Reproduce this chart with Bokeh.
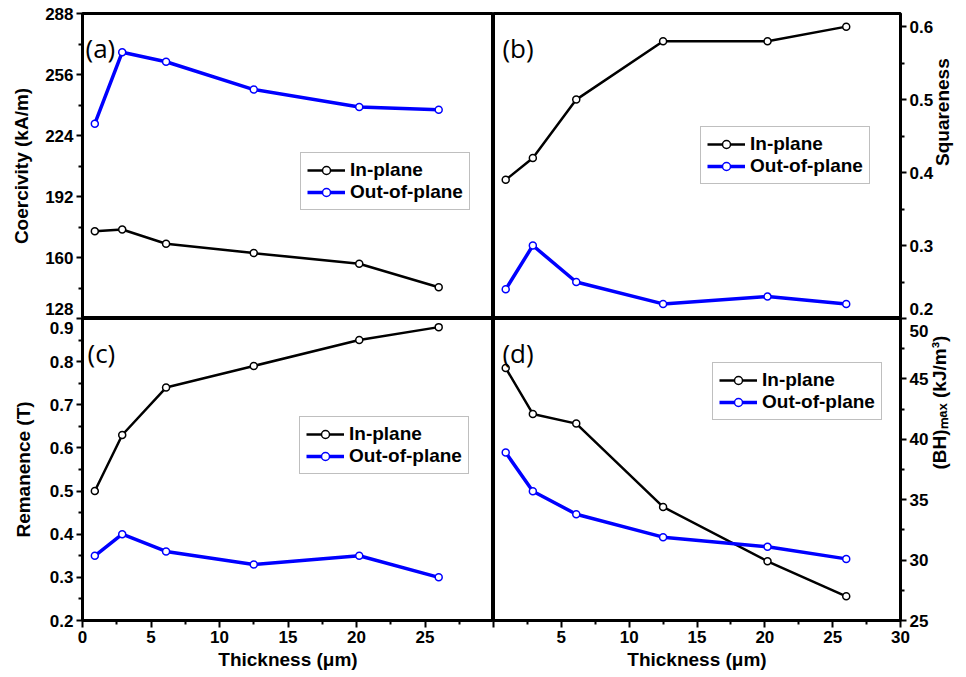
import math
from bokeh.plotting import figure
from bokeh.layouts import gridplot
from bokeh.models import FixedTicker, LinearAxis, Legend, LegendItem, Label, Range1d
from bokeh.embed import file_html
from bokeh.resources import INLINE

# ---------------- data ----------------
thickness = [0.9, 2.9, 6.1, 12.5, 20.2, 26.0]

coercivity_in = [173.8, 174.7, 167.2, 162.3, 156.7, 144.4]
coercivity_out = [230.2, 267.7, 262.7, 248.1, 238.9, 237.5]

squareness_in = [0.39, 0.42, 0.50, 0.58, 0.58, 0.60]
squareness_out = [0.24, 0.30, 0.25, 0.22, 0.23, 0.22]

remanence_in = [0.50, 0.63, 0.74, 0.79, 0.85, 0.88]
remanence_out = [0.35, 0.40, 0.36, 0.33, 0.35, 0.30]

bhmax_in = [45.9, 42.1, 41.3, 34.4, 29.9, 27.0]
bhmax_out = [38.9, 35.7, 33.8, 31.9, 31.1, 30.1]

x_ticks = [0, 5, 10, 15, 20, 25, 30]
a_ticks = [128, 160, 192, 224, 256, 288]
a_labels = ["128", "160", "192", "224", "256", "288"]
b_ticks = [0.2, 0.3, 0.4, 0.5, 0.6]
b_labels = ["0.2", "0.3", "0.4", "0.5", "0.6"]
c_ticks = [0.2, 0.3, 0.4, 0.5, 0.6, 0.7, 0.8, 0.9]
c_labels = ["0.2", "0.3", "0.4", "0.5", "0.6", "0.7", "0.8", "0.9"]
d_ticks = [25, 30, 35, 40, 45, 50]
d_labels = ["25", "30", "35", "40", "45", "50"]

series_labels = ["In-plane", "Out-of-plane"]
x_title = "Thickness (\u03bcm)"

FONT = "Liberation Sans"
BLUE = "#0000ff"
TICK_FS = "17px"
TITLE_FS = "19px"


def mids(t):
    return [(t[i] + t[i + 1]) / 2 for i in range(len(t) - 1)]


def make_fig(w, h, yr, bl, br, bt, bb):
    p = figure(width=w, height=h, x_range=Range1d(0, 30), y_range=Range1d(*yr),
               output_backend="svg", toolbar_location=None,
               x_axis_location=None, y_axis_location=None,
               min_border_left=bl, min_border_right=br,
               min_border_top=bt, min_border_bottom=bb)
    p.xgrid.visible = False
    p.ygrid.visible = False
    p.outline_line_color = "black"
    p.outline_line_width = 3
    p.background_fill_color = "white"
    p.border_fill_color = "white"
    return p


def style_title(ax, title, standoff, side):
    ax.axis_label = title
    ax.axis_label_text_font = FONT
    ax.axis_label_text_font_style = "bold"
    ax.axis_label_text_font_size = TITLE_FS
    ax.axis_label_text_color = "black"
    ax.axis_label_standoff = standoff
    if side == "right" and "axis_label_orientation" in ax.properties():
        ax.axis_label_orientation = math.pi / 2


def value_axis(p, side, ticks, labels, yr, frame_h, nudge_idx, nudge_px,
               title, title_standoff):
    # tick marks only (nearest the frame)
    marks = LinearAxis(ticker=FixedTicker(ticks=ticks, minor_ticks=mids(ticks)))
    marks.major_tick_in = 0
    marks.major_tick_out = 6
    marks.minor_tick_in = 0
    marks.minor_tick_out = 4
    marks.major_tick_line_width = 2
    marks.minor_tick_line_width = 2
    marks.axis_line_color = None
    marks.major_label_text_color = None
    marks.major_label_text_font_size = "1px"
    marks.major_label_standoff = 0
    p.add_layout(marks, side)
    # labels only (the label at the shared panel edge is nudged inward)
    span = yr[1] - yr[0]
    pos = list(ticks)
    pos[nudge_idx] = round(ticks[nudge_idx] + nudge_px / frame_h * span, 4)
    lab = LinearAxis(ticker=FixedTicker(ticks=pos, minor_ticks=[]))
    lab.major_tick_in = 0
    lab.major_tick_out = 0
    lab.minor_tick_in = 0
    lab.minor_tick_out = 0
    lab.axis_line_color = None
    lab.major_label_standoff = 3
    lab.major_label_text_font = FONT
    lab.major_label_text_font_style = "bold"
    lab.major_label_text_font_size = TICK_FS
    lab.major_label_text_color = "black"
    lab.major_label_overrides = {v: t for v, t in zip(pos, labels)}
    style_title(lab, title, title_standoff, side)
    p.add_layout(lab, side)


def x_axis(p, overrides, title):
    ax = LinearAxis(ticker=FixedTicker(ticks=x_ticks, minor_ticks=mids(x_ticks)))
    ax.major_tick_in = 0
    ax.major_tick_out = 7
    ax.minor_tick_in = 0
    ax.minor_tick_out = 4
    ax.major_tick_line_width = 2
    ax.minor_tick_line_width = 2
    ax.axis_line_color = None
    ax.major_label_standoff = 3
    ax.major_label_text_font = FONT
    ax.major_label_text_font_style = "bold"
    ax.major_label_text_font_size = TICK_FS
    ax.major_label_text_color = "black"
    ax.major_label_overrides = overrides
    style_title(ax, title, 3, "below")
    p.add_layout(ax, "below")


def add_series(p, yin, yout, loc):
    l1 = p.line(thickness, yin, line_color="black", line_width=2.5)
    c1 = p.scatter(thickness, yin, size=7, marker="circle", fill_color="white",
                   line_color="black", line_width=1.5)
    l2 = p.line(thickness, yout, line_color=BLUE, line_width=3.5)
    c2 = p.scatter(thickness, yout, size=7, marker="circle", fill_color="white",
                   line_color=BLUE, line_width=1.5)
    lg = Legend(items=[LegendItem(label=series_labels[0], renderers=[l1, c1]),
                       LegendItem(label=series_labels[1], renderers=[l2, c2])],
                location=loc)
    lg.label_text_font = FONT
    lg.label_text_font_style = "bold"
    lg.label_text_font_size = "19px"
    lg.label_text_color = "black"
    lg.border_line_color = "#808080"
    lg.border_line_width = 1
    lg.glyph_width = 38
    lg.glyph_height = 20
    lg.label_height = 20
    lg.label_standoff = 5
    lg.padding = 6
    lg.spacing = 0
    lg.margin = 0
    lg.background_fill_alpha = 1
    p.add_layout(lg)


def panel_label(p, text, xr, yr, frame_w, frame_h, dx, dy):
    x = xr[0] + dx / frame_w * (xr[1] - xr[0])
    y = yr[1] - dy / frame_h * (yr[1] - yr[0])
    p.add_layout(Label(x=x, y=y, text=text, text_font="Open Sans",
                       text_font_size="26px", text_color="black",
                       text_baseline="alphabetic"))


XR = (0, 30)

# ---------- (a) ----------
ya = (128, 288)
pa = make_fig(493, 318, ya, 82, 0, 13, 0)
value_axis(pa, "left", a_ticks, a_labels, ya, 305, 0, 10, "Coercivity (kA/m)", 10)
add_series(pa, coercivity_in, coercivity_out, (218, 108))
panel_label(pa, "(a)", XR, ya, 411, 305, 3, 34)

# ---------- (b) ----------
yb = (0.2, 0.618)
pb = make_fig(473, 318, yb, 0, 61, 13, 0)
value_axis(pb, "right", b_ticks, b_labels, yb, 305, 0, 10, "Squareness", 6)
add_series(pb, squareness_in, squareness_out, (207, 134))
panel_label(pb, "(b)", XR, yb, 412, 305, 9, 34)

# ---------- (c) ----------
yc = (0.2, 0.9)
pc = make_fig(493, 359, yc, 82, 0, 0, 57)
value_axis(pc, "left", c_ticks, c_labels, yc, 302, len(c_ticks) - 1, -9,
           "Remanence (T)", 13)
x_axis(pc, {30: ""}, x_title)
add_series(pc, remanence_in, remanence_out, (217, 146))
panel_label(pc, "(c)", XR, yc, 411, 302, 5, 34)

# ---------- (d) ----------
yd = (25, 50)
pd_ = make_fig(473, 359, yd, 0, 61, 0, 57)
value_axis(pd_, "right", d_ticks, d_labels, yd, 302, len(d_ticks) - 1, -12,
           "(BH)\u2098\u2090\u2093 (kJ/m\u00b3)", 8)
x_axis(pd_, {0: ""}, x_title)
add_series(pd_, bhmax_in, bhmax_out, (219, 200))
panel_label(pd_, "(d)", XR, yd, 412, 302, 9, 34)

grid = gridplot([[pa, pb], [pc, pd_]], toolbar_location=None)

open("out.html", "w").write(file_html(grid, INLINE))
